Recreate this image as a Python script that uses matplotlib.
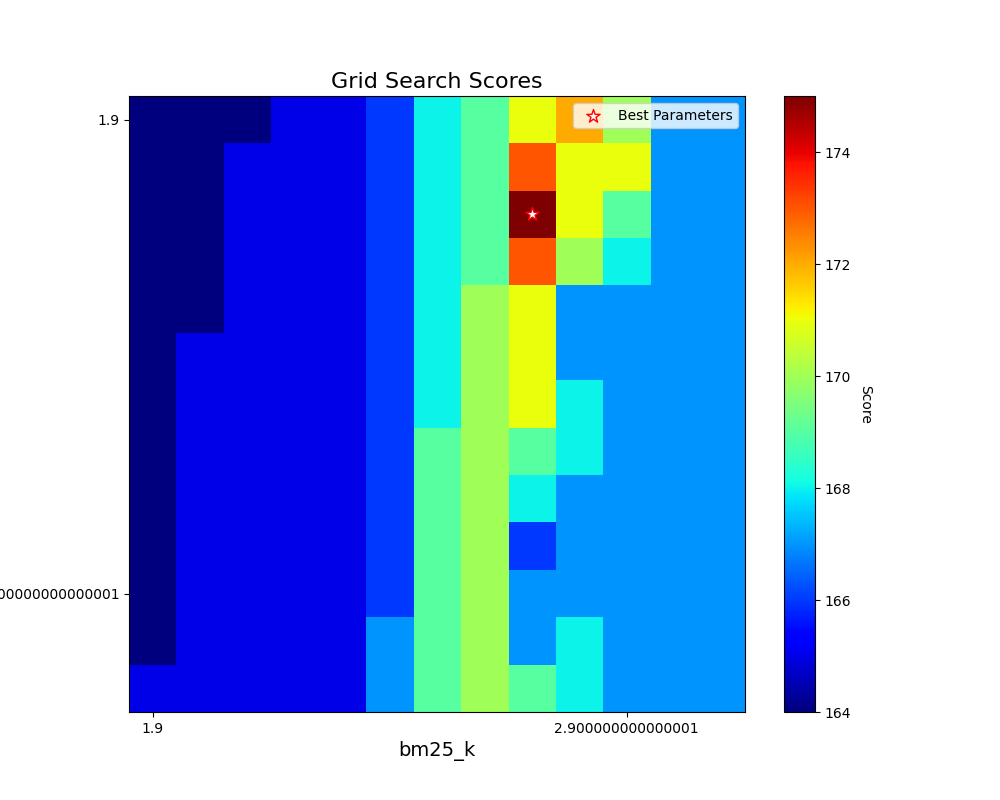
import numpy as np
from matplotlib import pyplot as plt

# bm25 parameter grids (1.9 .. 3.1, step 0.1)
k_labels = ['1.9', '2.900000000000001']
b_labels = ['1.9', '2.900000000000001']
tick_idx = [0, 10]

# scores, rows = b (top to bottom), cols = k (left to right)
scores = [
    [164, 164, 164, 165, 165, 166, 168, 169, 171, 172, 170, 167, 167],
    [164, 164, 165, 165, 165, 166, 168, 169, 173, 171, 171, 167, 167],
    [164, 164, 165, 165, 165, 166, 168, 169, 175, 171, 169, 167, 167],
    [164, 164, 165, 165, 165, 166, 168, 169, 173, 170, 168, 167, 167],
    [164, 164, 165, 165, 165, 166, 168, 170, 171, 167, 167, 167, 167],
    [164, 165, 165, 165, 165, 166, 168, 170, 171, 167, 167, 167, 167],
    [164, 165, 165, 165, 165, 166, 168, 170, 171, 168, 167, 167, 167],
    [164, 165, 165, 165, 165, 166, 169, 170, 169, 168, 167, 167, 167],
    [164, 165, 165, 165, 165, 166, 169, 170, 168, 167, 167, 167, 167],
    [164, 165, 165, 165, 165, 166, 169, 170, 166, 167, 167, 167, 167],
    [164, 165, 165, 165, 165, 166, 169, 170, 167, 167, 167, 167, 167],
    [164, 165, 165, 165, 165, 167, 169, 170, 167, 168, 167, 167, 167],
    [165, 165, 165, 165, 165, 167, 169, 170, 169, 168, 167, 167, 167],
]

grid = np.array(scores)
best_row, best_col = np.unravel_index(np.argmax(grid), grid.shape)

fig = plt.figure(figsize=(10, 8), dpi=100)
ax = plt.gca()
im = ax.imshow(grid, cmap='jet')
cbar = plt.colorbar(im)
cbar.set_label('Score', rotation=270, labelpad=15)

ax.scatter(best_col, best_row, marker='*', s=100, c='white',
           edgecolors='red', label='Best Parameters')
ax.legend(loc='upper right')

ax.set_xticks(tick_idx)
ax.set_xticklabels(k_labels)
ax.set_yticks(tick_idx)
ax.set_yticklabels(b_labels)
ax.set_xlabel('bm25_k', fontsize=14)
ax.set_title('Grid Search Scores', fontsize=16)

plt.savefig('out.png')
